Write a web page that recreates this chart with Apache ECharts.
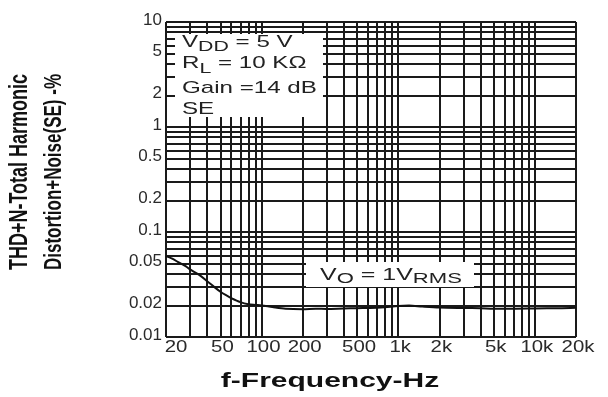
<!DOCTYPE html>
<html>
<head>
<meta charset="utf-8">
<script src="https://cdn.jsdelivr.net/npm/echarts@6/dist/echarts.min.js"></script>
<style>
  html, body { margin: 0; padding: 0; background: #fff; }
  #chart { width: 608px; height: 397px; }
</style>
</head>
<body>
<div id="chart"></div>
<script>
// THD+N vs frequency
const freqHz = [20, 22, 25, 28, 30, 35, 40, 45, 50, 55, 60, 70, 80, 90, 100, 120, 150, 200, 250, 300, 400, 500, 600, 700, 800, 1000, 1200, 1500, 2000, 3000, 4000, 5000, 7000, 10000, 15000, 20000];
const thdPct = [0.059, 0.056, 0.051, 0.047, 0.044, 0.039, 0.034, 0.030, 0.027, 0.025, 0.0235, 0.0215, 0.0205, 0.0202, 0.0200, 0.0193, 0.0186, 0.0184, 0.0186, 0.0185, 0.0187, 0.0188, 0.0189, 0.0190, 0.0192, 0.0197, 0.0199, 0.0195, 0.0191, 0.0189, 0.0188, 0.0186, 0.0186, 0.0187, 0.0188, 0.0190];

// grid lines (log paper)
const xGridHz = [20, 30, 40, 50, 60, 70, 80, 90, 100, 200, 300, 400, 500, 600, 700, 800, 900, 1000, 2000, 3000, 4000, 5000, 6000, 7000, 8000, 9000, 10000, 20000];
const yGridPct = [0.01, 0.02, 0.03, 0.04, 0.05, 0.06, 0.07, 0.08, 0.09, 0.1, 0.2, 0.3, 0.4, 0.5, 0.6, 0.7, 0.8, 0.9, 1, 2, 3, 4, 5, 6, 7, 8, 9, 10];

// tick labels
const xTickVals = [20, 50, 100, 200, 500, 1000, 2000, 5000, 10000, 20000];
const xTickText = ['20', '50', '100', '200', '500', '1k', '2k', '5k', '10k', '20k'];
const yTickVals = [10, 5, 2, 1, 0.5, 0.2, 0.1, 0.05, 0.02, 0.01];
const yTickText = ['10', '5', '2', '1', '0.5', '0.2', '0.1', '0.05', '0.02', '0.01'];

const FONT = '"Liberation Sans", Arial, sans-serif';
const INK = '#1a1a1a';

const chart = echarts.init(document.getElementById('chart'), null, { renderer: 'canvas' });

const gridLine = { color: INK, width: 2, type: 'solid' };

const option = {
  backgroundColor: '#fff',
  animation: false,
  grid: { left: 166, right: 32, top: 22, bottom: 60 },
  xAxis: {
    type: 'log', logBase: 10, min: 20, max: 20000,
    axisLine: { show: false }, axisTick: { show: false },
    axisLabel: { show: false }, splitLine: { show: false }
  },
  yAxis: {
    type: 'log', logBase: 10, min: 0.01, max: 10,
    axisLine: { show: false }, axisTick: { show: false },
    axisLabel: { show: false }, splitLine: { show: false }
  },
  series: [
    {
      // log-paper grid
      type: 'line', data: [], z: 2, silent: true,
      markLine: {
        silent: true, symbol: 'none', animation: false,
        label: { show: false },
        lineStyle: gridLine,
        data: [
          ...xGridHz.map(v => ({ xAxis: v })),
          ...yGridPct.map(v => ({ yAxis: v }))
        ]
      }
    },
    {
      type: 'line',
      data: freqHz.map((f, i) => [f, thdPct[i]]),
      showSymbol: false, smooth: 0.3, z: 10,
      lineStyle: { color: '#111', width: 2 }
    },
    {
      // frequency tick labels
      type: 'custom', silent: true, z: 20, clip: false,
      data: xTickVals.map((v, i) => [v, 0.01, i]),
      renderItem: (params, api) => {
        const p = api.coord([api.value(0), api.value(1)]);
        const i = params.dataIndex;
        return {
          type: 'text', x: p[0] + (i === 0 ? 10 : 2), y: p[1] + 2, scaleX: 1.2,
          style: { text: xTickText[i], align: 'center', verticalAlign: 'top', font: '17px ' + FONT, fill: '#2a2a2a' }
        };
      }
    },
    {
      // THD tick labels
      type: 'custom', silent: true, z: 20, clip: false,
      data: yTickVals.map((v, i) => [20, v, i]),
      renderItem: (params, api) => {
        const p = api.coord([api.value(0), api.value(1)]);
        const i = params.dataIndex;
        return {
          type: 'text', x: p[0] - 4, y: p[1] - 2, scaleX: 1.0,
          style: { text: yTickText[i], align: 'right', verticalAlign: 'middle', font: '17px ' + FONT, fill: '#2a2a2a' }
        };
      }
    }
  ],
  graphic: [
    { type: 'rect', z: 50, shape: { x: 175, y: 34, width: 148, height: 83 }, style: { fill: '#fff' } },
    { type: 'text', z: 51, x: 182, y: 42, scaleX: 1.42, style: {
        text: '{n|V}{s|DD}{n| = 5 V}', verticalAlign: 'middle', fill: '#222',
        rich: { n: { fontSize: 17, fontFamily: FONT }, s: { fontSize: 15, fontFamily: FONT, padding: [9, 0, 0, 0] } } } },
    { type: 'text', z: 51, x: 182, y: 63, scaleX: 1.42, style: {
        text: '{n|R}{s|L}{n| = 10 KΩ}', verticalAlign: 'middle', fill: '#222',
        rich: { n: { fontSize: 17, fontFamily: FONT }, s: { fontSize: 15, fontFamily: FONT, padding: [12, 0, 0, 0] } } } },
    { type: 'text', z: 51, x: 182, y: 88, scaleX: 1.42, style: {
        text: 'Gain =14 dB', verticalAlign: 'middle', fill: '#222', font: '17px ' + FONT } },
    { type: 'text', z: 51, x: 182, y: 109, scaleX: 1.42, style: {
        text: 'SE', verticalAlign: 'middle', fill: '#222', font: '17px ' + FONT } },

    { type: 'rect', z: 50, shape: { x: 306, y: 262, width: 168, height: 25 }, style: { fill: '#fff' } },
    { type: 'text', z: 51, x: 320, y: 275, scaleX: 1.47, style: {
        text: '{n|V}{s|O}{n| = 1V}{s|RMS}', verticalAlign: 'middle', fill: '#222',
        rich: { n: { fontSize: 17, fontFamily: FONT }, s: { fontSize: 15, fontFamily: FONT, padding: [7, 0, 0, 0] } } } },

    { type: 'text', z: 51, x: 330, y: 381, scaleX: 1.5, style: {
        text: 'f-Frequency-Hz', align: 'center', verticalAlign: 'middle', fill: '#111', font: 'bold 20px ' + FONT } },
    { type: 'text', z: 51, x: 20, y: 172, rotation: Math.PI / 2, scaleY: 1.45, style: {
        text: 'THD+N-Total Harmonic', align: 'center', verticalAlign: 'middle', fill: '#111', font: 'bold 18px ' + FONT } },
    { type: 'text', z: 51, x: 54, y: 172, rotation: Math.PI / 2, scaleY: 1.45, style: {
        text: 'Distortion+Noise(SE) -%', align: 'center', verticalAlign: 'middle', fill: '#111', font: 'bold 17px ' + FONT } }
  ]
};

chart.setOption(option);
</script>
</body>
</html>
